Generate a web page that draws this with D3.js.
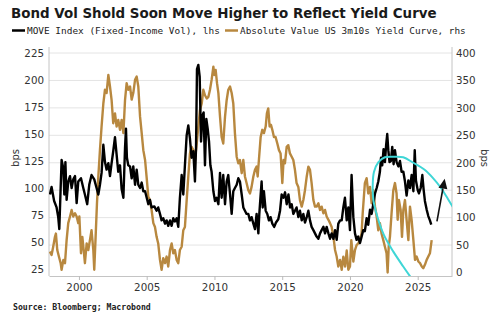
<!DOCTYPE html>
<html>
<head>
<meta charset="utf-8">
<script src="https://cdn.jsdelivr.net/npm/d3@7"></script>
<style>
  html, body { margin: 0; padding: 0; background: #fff; }
  svg { display: block; }
</style>
</head>
<body>
<script>
// ---------------- DATA ----------------
const title = "Bond Vol Shold Soon Move Higher to Reflect Yield Curve";
const legendLabels = ["MOVE Index (Fixed-Income Vol), lhs", "Absolute Value US 3m10s Yield Curve, rhs"];
const sourceText = "Source: Bloomberg; Macrobond";
const xTicks = [2000, 2005, 2010, 2015, 2020, 2025];
const leftTicks = [25, 50, 75, 100, 125, 150, 175, 200, 225];
const rightTicks = [0, 50, 100, 150, 200, 250, 300, 350, 400];

// MOVE index (lhs, bps) : [year, value]
const moveIndex = [
[1997.86,94],[1997.98,101],[1998.17,88],[1998.35,82],[1998.47,73],[1998.55,62],[1998.65,100],[1998.72,126],[1998.85,118],[1998.92,94],
[1999.00,124],[1999.09,89],[1999.21,106],[1999.34,111],[1999.46,100],[1999.58,108],[1999.71,111],[1999.83,86],[1999.95,106],
[2000.15,109],[2000.32,100],[2000.44,94],[2000.61,85],[2000.76,103],[2000.93,112],
[2001.13,108],[2001.30,100],[2001.43,94],[2001.55,103],[2001.67,114],[2001.80,140],[2001.92,124],
[2002.04,117],[2002.17,123],[2002.29,111],[2002.41,123],[2002.53,134],[2002.66,147],[2002.78,131],[2002.90,115],
[2003.03,121],[2003.15,99],[2003.28,91],[2003.40,137],[2003.47,155],[2003.54,128],[2003.64,121],[2003.77,120],[2003.89,109],
[2004.01,120],[2004.14,103],[2004.26,117],[2004.38,103],[2004.51,100],[2004.63,105],[2004.75,97],[2004.88,97],
[2005.00,91],[2005.12,85],[2005.24,89],[2005.36,82],[2005.56,83],[2005.73,79],[2005.85,82],[2005.98,76],
[2006.10,70],[2006.22,72],[2006.35,67],[2006.47,70],[2006.59,65],[2006.72,70],[2006.84,65],[2006.96,72],
[2007.08,69],[2007.21,72],[2007.33,64],[2007.45,91],[2007.58,112],[2007.70,94],[2007.82,121],[2007.95,149],
[2008.07,158],[2008.19,146],[2008.31,128],[2008.44,134],[2008.56,106],[2008.64,137],[2008.71,210],[2008.81,214],[2008.91,203],
[2009.01,143],[2009.11,167],[2009.20,170],[2009.30,121],[2009.40,164],[2009.50,155],[2009.60,143],[2009.70,121],[2009.79,115],[2009.92,97],
[2010.04,88],[2010.16,91],[2010.29,85],[2010.41,114],[2010.53,91],[2010.65,112],[2010.78,85],[2010.90,106],
[2011.02,112],[2011.15,94],[2011.27,76],[2011.39,97],[2011.51,100],[2011.64,103],[2011.76,109],[2011.88,106],
[2012.01,94],[2012.13,82],[2012.25,79],[2012.37,76],[2012.50,76],[2012.62,70],[2012.74,73],[2012.87,67],[2012.99,62],
[2013.11,76],[2013.24,58],[2013.31,76],[2013.41,94],[2013.48,106],[2013.56,82],[2013.65,97],[2013.78,79],[2013.90,76],
[2014.02,70],[2014.14,73],[2014.27,67],[2014.41,64],[2014.54,68],[2014.71,71],[2014.84,79],[2014.96,94],
[2015.09,91],[2015.21,96],[2015.33,85],[2015.46,94],[2015.58,82],[2015.70,85],[2015.82,76],[2015.94,79],
[2016.06,82],[2016.19,73],[2016.31,79],[2016.44,70],[2016.56,76],[2016.68,68],[2016.81,73],[2016.93,79],
[2017.05,70],[2017.17,64],[2017.30,61],[2017.42,58],[2017.54,55],[2017.67,53],[2017.79,58],[2017.91,61],
[2018.04,64],[2018.16,58],[2018.28,64],[2018.41,58],[2018.53,53],[2018.65,58],[2018.78,53],[2018.90,61],
[2019.02,52],[2019.14,67],[2019.27,70],[2019.39,70],[2019.51,82],[2019.63,91],[2019.76,70],[2019.88,82],
[2020.00,61],[2020.12,112],[2020.25,73],[2020.37,58],[2020.49,52],[2020.61,55],[2020.74,49],[2020.86,55],[2020.98,61],
[2021.10,60],[2021.23,72],[2021.35,66],[2021.48,80],[2021.60,76],[2021.72,85],[2021.85,95],[2021.97,100],
[2022.09,106],[2022.21,115],[2022.29,128],[2022.38,121],[2022.48,136],[2022.58,124],[2022.67,140],[2022.75,150],[2022.83,135],[2022.92,124],
[2023.02,125],[2023.12,138],[2023.22,122],[2023.32,135],[2023.44,124],[2023.57,120],[2023.69,125],[2023.81,115],[2023.94,115],
[2024.06,106],[2024.18,93],[2024.31,107],[2024.43,100],[2024.55,112],[2024.68,97],[2024.78,135],[2024.87,107],
[2025.00,98],[2025.09,95],[2025.22,100],[2025.34,112],[2025.44,98],[2025.53,88],[2025.66,80],[2025.78,74],[2025.90,70],[2026.00,66]
];

// Absolute value of US 3m10s curve (rhs, bps) : [year, value]
const yieldCurveAbs = [
[1997.86,38],[1997.98,32],[1998.10,47],[1998.23,65],[1998.30,71],[1998.40,41],[1998.52,29],[1998.65,17],[1998.72,5],[1998.85,23],[1998.97,17],
[1999.09,59],[1999.21,90],[1999.34,102],[1999.46,114],[1999.58,102],[1999.71,108],[1999.83,102],[1999.95,90],
[2000.03,102],[2000.15,35],[2000.25,65],[2000.35,41],[2000.44,17],[2000.57,53],[2000.69,41],[2000.81,59],[2000.93,77],
[2001.06,41],[2001.13,5],[2001.23,65],[2001.33,126],[2001.43,175],[2001.55,223],[2001.67,266],[2001.80,308],[2001.92,333],
[2002.04,327],[2002.17,360],[2002.29,339],[2002.41,314],[2002.53,272],[2002.66,290],[2002.78,266],[2002.90,278],
[2003.03,260],[2003.15,278],[2003.28,254],[2003.40,314],[2003.52,345],[2003.64,333],[2003.77,339],[2003.89,315],
[2004.01,327],[2004.14,351],[2004.26,357],[2004.38,339],[2004.51,284],[2004.63,254],[2004.75,223],[2004.88,205],
[2005.00,172],[2005.12,138],[2005.24,132],[2005.36,114],[2005.49,90],[2005.61,83],[2005.73,65],[2005.85,53],[2005.98,23],
[2006.10,5],[2006.22,26],[2006.35,17],[2006.47,29],[2006.59,11],[2006.72,41],[2006.84,53],[2006.96,35],
[2007.08,41],[2007.21,23],[2007.33,17],[2007.45,41],[2007.58,47],[2007.70,77],[2007.82,83],[2007.95,132],
[2008.07,175],[2008.19,217],[2008.31,229],[2008.44,223],[2008.56,205],[2008.69,235],[2008.81,266],[2008.93,296],
[2009.06,308],[2009.18,333],[2009.30,323],[2009.43,317],[2009.55,320],[2009.67,333],[2009.79,351],[2009.92,375],[2009.99,360],
[2010.09,369],[2010.19,345],[2010.29,327],[2010.41,284],[2010.53,247],[2010.65,235],[2010.78,284],[2010.90,314],
[2011.02,333],[2011.15,339],[2011.27,327],[2011.39,308],[2011.51,254],[2011.64,211],[2011.76,199],[2011.88,205],
[2012.01,181],[2012.13,205],[2012.25,175],[2012.37,163],[2012.50,150],[2012.62,144],[2012.74,156],[2012.87,175],[2012.99,187],
[2013.11,193],[2013.19,175],[2013.28,205],[2013.41,247],[2013.53,260],[2013.65,254],[2013.78,266],[2013.87,290],[2013.97,299],
[2014.07,266],[2014.17,269],[2014.27,260],[2014.39,247],[2014.51,247],[2014.64,235],[2014.76,223],[2014.88,217],
[2015.01,163],[2015.10,205],[2015.20,199],[2015.33,229],[2015.45,232],[2015.57,217],[2015.70,211],[2015.82,205],[2015.94,187],
[2016.06,163],[2016.19,156],[2016.31,132],[2016.44,120],[2016.56,132],[2016.68,150],[2016.81,175],[2016.93,193],
[2017.05,187],[2017.17,163],[2017.30,132],[2017.42,120],[2017.54,120],[2017.67,126],[2017.79,114],[2017.91,120],
[2018.04,108],[2018.16,114],[2018.28,102],[2018.41,96],[2018.53,90],[2018.65,83],[2018.78,65],[2018.90,41],
[2019.02,29],[2019.14,11],[2019.27,23],[2019.39,5],[2019.51,29],[2019.64,11],[2019.76,40],[2019.88,5],
[2020.00,11],[2020.10,59],[2020.25,20],[2020.37,41],[2020.49,50],[2020.61,53],[2020.74,60],[2020.86,72],[2020.94,108],
[2021.10,163],[2021.23,172],[2021.35,144],[2021.48,156],[2021.60,126],[2021.72,150],[2021.85,120],[2021.97,102],
[2022.09,77],[2022.21,90],[2022.33,71],[2022.46,59],[2022.58,47],[2022.70,35],[2022.78,0],[2022.86,47],[2022.95,65],
[2023.07,108],[2023.20,150],[2023.32,163],[2023.44,144],[2023.52,96],[2023.61,132],[2023.74,114],[2023.84,65],[2023.94,114],
[2024.06,132],[2024.18,96],[2024.31,59],[2024.43,120],[2024.55,96],[2024.68,59],[2024.80,23],[2024.92,29],
[2025.05,20],[2025.17,17],[2025.30,11],[2025.41,8],[2025.53,14],[2025.66,23],[2025.78,29],[2025.90,35],[2026.03,59]
];

// Annotations (in data units: year, rhs bps)
const cyanArc = [
[2024.58,-12],[2023.93,11],[2023.20,38],[2022.51,68],[2022.03,101],[2021.73,132],[2021.68,159],[2021.77,183],
[2022.10,201],[2022.58,210],[2023.25,211],[2023.93,210],[2024.67,200],[2025.46,188],[2026.13,172],[2026.72,154],
[2027.23,134],[2027.82,110]
];
const arrowPts = [[2026.42, 93], [2026.99, 171]];

// ---------------- CHART ----------------
const W = 500, H = 322;
const plot = { left: 49, right: 452, top: 47, bottom: 276 };

const svg = d3.select("body").append("svg").attr("width", W).attr("height", H);

const x = d3.scaleLinear().domain([1997.79, 2027.53]).range([plot.left, plot.right]);
const yL = d3.scaleLinear().domain([25, 225]).range([269, 53]);
const yR = d3.scaleLinear().domain([0, 400]).range([272.5, 53]);

const fontSans = "'DejaVu Sans', Verdana, sans-serif";
const fontMono = "'DejaVu Sans Mono', monospace";

function fitWidth(sel, target) {
  const node = sel.node();
  const fs = parseFloat(sel.attr("font-size"));
  const w = node.getComputedTextLength();
  if (w > 0) sel.attr("font-size", (fs * target / w).toFixed(2));
}

// gridlines (from rhs ticks)
svg.append("g").selectAll("line").data(rightTicks.filter(d => d > 0)).join("line")
  .attr("x1", plot.left).attr("x2", plot.right)
  .attr("y1", d => yR(d)).attr("y2", d => yR(d))
  .attr("stroke", "#e4e4e4").attr("stroke-width", 1);

// axis frame lines
svg.append("line").attr("x1", plot.left).attr("x2", plot.left).attr("y1", plot.top).attr("y2", plot.bottom)
  .attr("stroke", "#c4c4c4").attr("stroke-width", 1);
svg.append("line").attr("x1", plot.right).attr("x2", plot.right).attr("y1", plot.top).attr("y2", plot.bottom)
  .attr("stroke", "#c4c4c4").attr("stroke-width", 1);

// x axis
const xAxis = d3.axisBottom(x).tickValues(xTicks).tickFormat(d3.format("d")).tickSize(4).tickSizeOuter(0).tickPadding(4);
const gx = svg.append("g").attr("transform", `translate(0,${plot.bottom})`).call(xAxis);
gx.select(".domain").attr("stroke", "#c4c4c4");
gx.selectAll(".tick line").attr("stroke", "#bbb");
gx.selectAll("text").attr("font-family", fontSans).attr("font-size", 10.3).attr("fill", "#333");

// left axis
const lAxis = d3.axisLeft(yL).tickValues(leftTicks).tickSize(0).tickPadding(5);
const gl = svg.append("g").attr("transform", `translate(${plot.left},0)`).call(lAxis);
gl.select(".domain").remove();
gl.selectAll("text").attr("font-family", fontSans).attr("font-size", 10.3).attr("fill", "#333");

// right axis
const rAxis = d3.axisRight(yR).tickValues(rightTicks).tickSize(0).tickPadding(4);
const gr = svg.append("g").attr("transform", `translate(${plot.right},0)`).call(rAxis);
gr.select(".domain").remove();
gr.selectAll("text").attr("font-family", fontSans).attr("font-size", 10.3).attr("fill", "#333");

// axis titles
svg.append("text").attr("transform", "translate(19,158) rotate(-90)")
  .attr("text-anchor", "middle").attr("font-family", fontSans).attr("font-size", 10).attr("fill", "#333").text("bps");
svg.append("text").attr("transform", "translate(481,158) rotate(90)")
  .attr("text-anchor", "middle").attr("font-family", fontSans).attr("font-size", 10).attr("fill", "#333").text("bps");

// clip
svg.append("clipPath").attr("id", "clip").append("rect")
  .attr("x", plot.left).attr("y", plot.top).attr("width", plot.right - plot.left).attr("height", plot.bottom - plot.top);
const g = svg.append("g").attr("clip-path", "url(#clip)");

const goldLine = d3.line().x(d => x(d[0])).y(d => yR(d[1]));
const blackLine = d3.line().x(d => x(d[0])).y(d => yL(d[1]));

g.append("path").datum(yieldCurveAbs).attr("d", goldLine)
  .attr("fill", "none").attr("stroke", "#b8883f").attr("stroke-width", 2.4).attr("stroke-linejoin", "round");
g.append("path").datum(moveIndex).attr("d", blackLine)
  .attr("fill", "none").attr("stroke", "#000").attr("stroke-width", 2.4).attr("stroke-linejoin", "round");

// cyan arc annotation
const arcLine = d3.line().x(d => x(d[0])).y(d => yR(d[1])).curve(d3.curveCatmullRom.alpha(0.5));
g.append("path").datum(cyanArc).attr("d", arcLine)
  .attr("fill", "none").attr("stroke", "#3fd6d6").attr("stroke-width", 2);

// arrow annotation (shaft + filled head)
const ax0 = x(arrowPts[0][0]), ay0 = yR(arrowPts[0][1]);
const ax1 = x(arrowPts[1][0]), ay1 = yR(arrowPts[1][1]);
const ang = Math.atan2(ay1 - ay0, ax1 - ax0);
const headLen = 10, headHalf = 4.5;
const bx = ax1 - headLen * Math.cos(ang), by = ay1 - headLen * Math.sin(ang);
svg.append("line").attr("x1", ax0).attr("y1", ay0).attr("x2", bx).attr("y2", by)
  .attr("stroke", "#111").attr("stroke-width", 1.6);
svg.append("path")
  .attr("d", d3.line()([
    [ax1, ay1],
    [bx + headHalf * Math.sin(ang), by - headHalf * Math.cos(ang)],
    [bx - headHalf * Math.sin(ang), by + headHalf * Math.cos(ang)]
  ]) + "Z")
  .attr("fill", "#111");

// title
const t = svg.append("text").attr("x", 11).attr("y", 18).attr("font-family", fontSans)
  .attr("font-weight", "bold").attr("font-size", 13).attr("fill", "#1a1a1a").text(title);
fitWidth(t, 426);

// legend
const legendColors = ["#000", "#b8883f"];
const legendSw = [12, 225];
const legendTx = [27, 240];
const legendW = [193, 226];
legendLabels.forEach((lab, i) => {
  svg.append("line").attr("x1", legendSw[i]).attr("x2", legendSw[i] + 13).attr("y1", 30.5).attr("y2", 30.5)
    .attr("stroke", legendColors[i]).attr("stroke-width", 2.5);
  const lt = svg.append("text").attr("x", legendTx[i]).attr("y", 34).attr("font-family", fontMono)
    .attr("font-size", 9.5).attr("fill", "#222").text(lab);
  fitWidth(lt, legendW[i]);
});

// source
const s = svg.append("text").attr("x", 13).attr("y", 309.5).attr("font-family", fontMono)
  .attr("font-weight", "bold").attr("font-size", 8).attr("fill", "#222").text(sourceText);
fitWidth(s, 138);
</script>
</body>
</html>
